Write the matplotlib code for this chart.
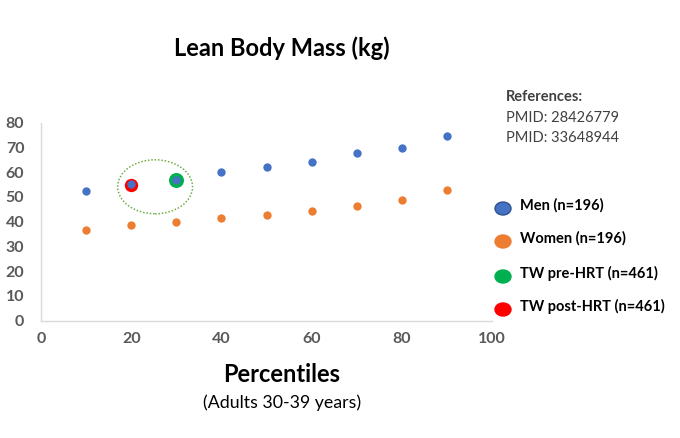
import matplotlib
matplotlib.use("Agg")
import matplotlib.pyplot as plt
from matplotlib.patches import Ellipse

plt.rcParams['font.family'] = ['Lato', 'DejaVu Sans']

percentiles = [10, 20, 30, 40, 50, 60, 70, 80, 90]
men = [52.5, 55.4, 56.7, 60.1, 62.1, 64.1, 67.6, 69.9, 74.5]
women = [36.6, 38.5, 39.7, 41.5, 42.7, 44.3, 46.2, 48.9, 52.7]
tw_pre_x = [30]
tw_pre = [56.7]
tw_post_x = [20]
tw_post = [55.0]

series_labels = ["Men (n=196)", "Women (n=196)", "TW pre-HRT (n=461)", "TW post-HRT (n=461)"]
colors = ["#4472C4", "#ED7D31", "#00B050", "#FF0000"]

title = "Lean Body Mass (kg)"
xlabel = "Percentiles"
xsub = "(Adults 30-39 years)"
refs_head = "References:"
refs = ["PMID: 28426779", "PMID: 33648944"]
xticks = [0, 20, 40, 60, 80, 100]
yticks = [0, 10, 20, 30, 40, 50, 60, 70, 80]

fig = plt.figure(figsize=(6.8, 4.38), dpi=100)
ax = fig.add_axes([41/680, 1-320.7/438, (492-41)/680, (320.7-122.7)/438])

ax.scatter(tw_pre_x, tw_pre, s=10.8**2, color=colors[2], zorder=2, linewidths=0)
ax.scatter(tw_post_x, tw_post, s=9.6**2, color=colors[3], zorder=2, linewidths=0)
ax.scatter(percentiles, men, s=6.0**2, color=colors[0], zorder=3, linewidths=0)
ax.scatter(percentiles, women, s=6.0**2, color=colors[1], zorder=3, linewidths=0)

ax.add_patch(Ellipse((25.3, 54.1), 16.6, 21.8, fill=False, edgecolor="#70AD47",
                     linestyle=(0, (1, 1.2)), linewidth=1.1, zorder=1))

ax.set_xlim(0, 100)
ax.set_ylim(0, 80)
ax.set_xticks(xticks)
ax.set_yticks(yticks)
ax.tick_params(length=0, labelsize=11.5, labelcolor="#595959", pad=8)
ax.tick_params(axis='y', pad=12)
for lab in ax.get_xticklabels() + ax.get_yticklabels():
    lab.set_fontweight("bold")
for s in ["top", "right"]:
    ax.spines[s].set_visible(False)
for s in ["left", "bottom"]:
    ax.spines[s].set_color("#D9D9D9")
    ax.spines[s].set_linewidth(1.0)

def fx(px):
    return px / 680
def fy(py):
    return 1 - py / 438

fig.text(fx(282), fy(48), title, ha="center", va="center", fontsize=17, fontweight="bold", color="black")
fig.text(fx(282), fy(375), xlabel, ha="center", va="center", fontsize=17, fontweight="bold", color="black")
fig.text(fx(282), fy(403), xsub, ha="center", va="center", fontsize=12.8, color="black")

fig.text(fx(506), fy(97), refs_head, ha="left", va="center", fontsize=10.5, fontweight="bold", color="#404040")
for i, r in enumerate(refs):
    fig.text(fx(506), fy(117.5 + 20 * i), r, ha="left", va="center", fontsize=10.5, color="#404040")

leg_y = [208.5, 241.5, 276.5, 309.5]
edges = ["#2F528F", "#ED7D31", "#00B050", "#FF0000"]
for lab, c, ec, y in zip(series_labels, colors, edges, leg_y):
    fig.add_artist(Ellipse((fx(503), fy(y)), 16/680, 13/438, transform=fig.transFigure,
                           facecolor=c, edgecolor=ec, linewidth=1.0))
    fig.text(fx(520), fy(y - 3), lab, ha="left", va="center", fontsize=10.5, fontweight="bold", color="black")

fig.savefig("out.png", dpi=100)
